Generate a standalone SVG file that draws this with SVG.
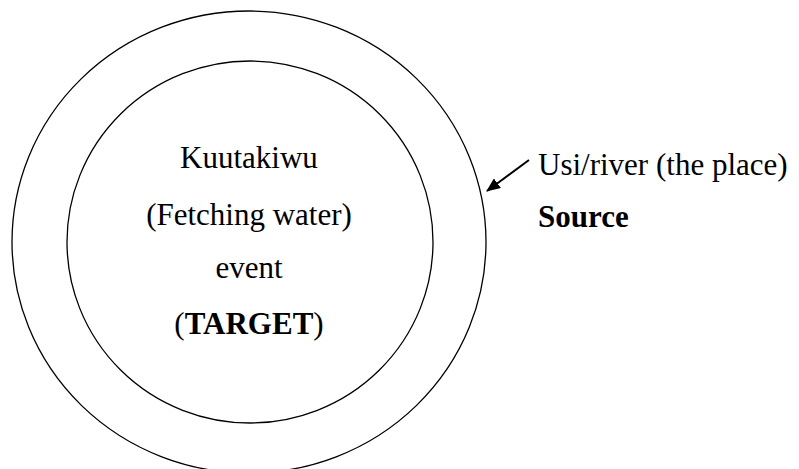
<svg xmlns="http://www.w3.org/2000/svg" width="799" height="469" viewBox="0 0 799 469">
  <style>
    .ring { fill: none; stroke: #000; stroke-width: 1.3; }
    .lbl { font-family: "Liberation Serif", "Times New Roman", serif; font-size: 31px; fill: #000; }
    .mid { text-anchor: middle; }
    .b { font-weight: bold; }
  </style>
  <defs>
    <marker id="head" viewBox="0 0 14 12" refX="13" refY="6" markerWidth="14" markerHeight="12" markerUnits="userSpaceOnUse" orient="auto">
      <path d="M0,0 L14,6 L0,12 z" fill="#000"/>
    </marker>
  </defs>
  <rect width="799" height="469" fill="#fff"/>

  <g id="source-ring">
    <ellipse class="ring" cx="249" cy="242" rx="237" ry="231"/>
  </g>

  <g id="target-ring">
    <ellipse class="ring" cx="250" cy="242" rx="183" ry="181"/>
    <text class="lbl mid" x="249" y="168">Kuutakiwu</text>
    <text class="lbl mid" x="249" y="225">(Fetching water)</text>
    <text class="lbl mid" x="249" y="278">event</text>
    <text class="lbl mid" x="249" y="334">(<tspan class="b">TARGET</tspan>)</text>
  </g>

  <g id="source-label">
    <text class="lbl" x="538" y="175">Usi/river (the place)</text>
    <text class="lbl b" x="538" y="227">Source</text>
  </g>

  <g id="connectors">
    <line x1="529" y1="160" x2="487" y2="191" stroke="#000" stroke-width="2" marker-end="url(#head)"/>
  </g>
</svg>
